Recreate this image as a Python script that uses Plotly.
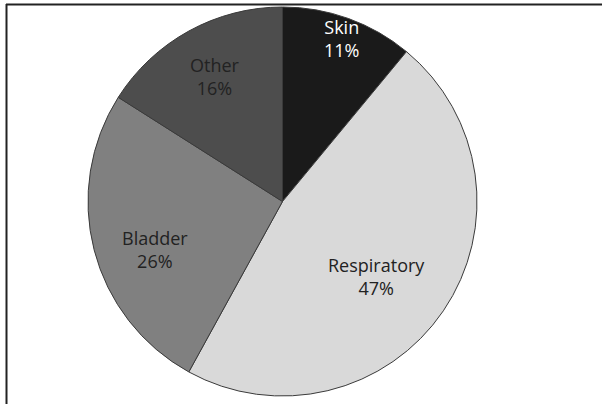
import math
import plotly.graph_objects as go

labels = ["Skin", "Respiratory", "Bladder", "Other"]
values = [11, 47, 26, 16]
colors = ["#1a1a1a", "#d9d9d9", "#808080", "#4d4d4d"]
text_colors = ["#ffffff", "#222222", "#222222", "#222222"]

# label placement (style): radial fraction and angular tweak (degrees)
label_r = [0.89, 0.62, 0.70, 0.73]
label_dang = [0.0, 4.4, -6.4, 0.5]

W, H = 602, 404
CX, CY, R = 282.5, 201.5, 194.5

fig = go.Figure(go.Pie(
    labels=labels, values=values, sort=False, direction="clockwise", rotation=0,
    marker=dict(colors=colors, line=dict(color="#3a3a3a", width=1)),
    textinfo="none", showlegend=False, hoverinfo="skip",
    domain=dict(x=[(CX - R) / W, (CX + R) / W], y=[(H - CY - R) / H, (H - CY + R) / H]),
))

annotations = []
total = sum(values)
cum = 0
for lab, v, tc, rf, da in zip(labels, values, text_colors, label_r, label_dang):
    mid = (cum + v / 2) / total * 360 + da
    cum += v
    px = CX + rf * R * math.sin(math.radians(mid))
    py = CY - rf * R * math.cos(math.radians(mid))
    annotations.append(dict(
        x=px / W, y=1 - py / H, xref="paper", yref="paper", showarrow=False,
        text=f"{lab}<br>{round(v / total * 100)}%",
        font=dict(family="Open Sans", size=18, color=tc), align="center",
        xanchor="center", yanchor="middle",
    ))

fig.update_layout(
    width=W, height=H, margin=dict(l=0, r=0, t=0, b=0),
    paper_bgcolor="white", plot_bgcolor="white",
    annotations=annotations,
    shapes=[
        dict(type="line", xref="paper", yref="paper", x0=6 / W, x1=1, y0=1 - 4.5 / H, y1=1 - 4.5 / H,
             line=dict(color="#222222", width=2)),
        dict(type="line", xref="paper", yref="paper", x0=6.5 / W, x1=6.5 / W, y0=0, y1=1 - 4 / H,
             line=dict(color="#222222", width=2)),
    ],
)
fig.write_html("out.html", config={"displayModeBar": False},
               post_script="document.body.style.margin='0px';")
